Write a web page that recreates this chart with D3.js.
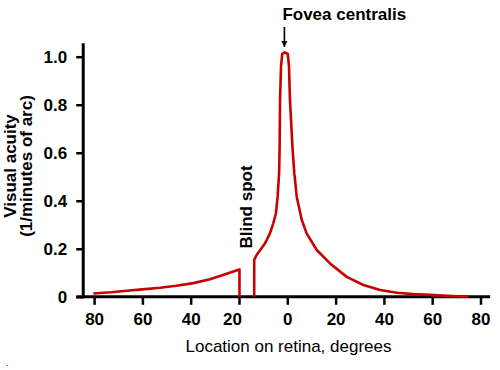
<!DOCTYPE html>
<html>
<head>
<meta charset="utf-8">
<script src="https://cdn.jsdelivr.net/npm/d3@7"></script>
<style>
  html, body { margin: 0; padding: 0; background: #fff; }
  svg { display: block; }
  text { font-family: "Liberation Sans", Arial, Helvetica, sans-serif; fill: #000; }
</style>
</head>
<body>
<svg id="chart" width="500" height="370"></svg>
<script>
// ---- Data (signed retina location in degrees: negative = left / nasal side) ----
const retinaLocation = [
  -80.3, -73, -66.5, -60, -52.7, -46, -38.9, -32, -25.1, -19.8, -19.8,
  null,
  -13.7, -13.7, -12.7, -9.2, -7.2, -5.8, -4.7, -4.0, -3.4, -3.2, -3.0, -2.6, -2.1, -1.0,
  0.2, 0.7, 1.1, 2.2, 2.9, 3.9, 6.0, 8.0, 12.2, 17.7, 24.6, 31.5, 38.4, 45.3, 52.2, 59.1, 66.0, 75.0
];
const acuity = [
  0.014, 0.019, 0.025, 0.031, 0.038, 0.046, 0.057, 0.073, 0.096, 0.114, 0,
  null,
  0, 0.154, 0.174, 0.223, 0.264, 0.306, 0.348, 0.417, 0.515, 0.612, 0.821, 0.96, 1.012, 1.018,
  1.012, 0.96, 0.821, 0.612, 0.515, 0.417, 0.32, 0.264, 0.195, 0.139, 0.083, 0.049, 0.028, 0.017, 0.011, 0.008, 0.004, 0.0
];
const xTickValues = [-80, -60, -40, -20, 0, 20, 40, 60, 80];
const xTickLabels = ["80", "60", "40", "20", "0", "20", "40", "60", "80"];
const yTickValues = [0, 0.2, 0.4, 0.6, 0.8, 1.0];
const yTickLabels = ["0", "0.2", "0.4", "0.6", "0.8", "1.0"];
const foveaLocation = -1.2;
const blindSpotLocation = -14.4;

// ---- Scales ----
const svg = d3.select("#chart");
const x = d3.scaleLinear().domain([-80, 80]).range([94.1, 480.5]);
const y = d3.scaleLinear().domain([0, 1]).range([296.8, 56.7]);
const xAxisStart = -84.5, xAxisEnd = 84;
const yAxisTop = 1.056;

const red = "#c80000";

// ---- Axes ----
const xAxis = d3.axisBottom(x)
  .tickValues(xTickValues)
  .tickFormat((d, i) => xTickLabels[i])
  .tickSizeInner(8).tickSizeOuter(0).tickPadding(8);
const gx = svg.append("g").attr("transform", `translate(0,${y(0)})`).call(xAxis);
gx.select(".domain").remove();
gx.selectAll(".tick line").attr("stroke", "#000").attr("stroke-width", 2.5);
gx.selectAll(".tick text")
  .style("font-size", "17px").style("font-weight", "bold")
  .attr("dx", (d, i) => (d === -20 ? -7 : 0));

const yAxis = d3.axisLeft(y)
  .tickValues(yTickValues)
  .tickFormat((d, i) => yTickLabels[i])
  .tickSizeInner(7).tickSizeOuter(0).tickPadding(9);
const gy = svg.append("g").attr("transform", `translate(${x(xAxisStart)},0)`).call(yAxis);
gy.select(".domain").remove();
gy.selectAll(".tick line").attr("stroke", "#000").attr("stroke-width", 2.5);
gy.selectAll(".tick text").style("font-size", "17px").style("font-weight", "bold");

// axis lines
svg.append("line")
  .attr("x1", x(xAxisStart) - 7).attr("x2", x(xAxisEnd))
  .attr("y1", y(0)).attr("y2", y(0))
  .attr("stroke", "#000").attr("stroke-width", 3);
svg.append("line")
  .attr("x1", x(xAxisStart)).attr("x2", x(xAxisStart))
  .attr("y1", y(0) + 1.5).attr("y2", y(yAxisTop))
  .attr("stroke", "#000").attr("stroke-width", 3);

// ---- Curve ----
const pts = retinaLocation.map((d, i) => ({ loc: d, val: acuity[i] }));
const line = d3.line()
  .defined(d => d.loc !== null && d.val !== null)
  .x(d => x(d.loc))
  .y(d => y(d.val))
  .curve(d3.curveLinear);
svg.append("path")
  .datum(pts)
  .attr("d", line)
  .attr("fill", "none")
  .attr("stroke", red)
  .attr("stroke-width", 2.6)
  .attr("stroke-linejoin", "round")
  .attr("stroke-linecap", "butt");

// ---- Axis titles ----
svg.append("text")
  .attr("x", 288.5).attr("y", 352)
  .attr("text-anchor", "middle")
  .style("font-size", "17px")
  .text("Location on retina, degrees");

const yTitle = svg.append("text")
  .attr("transform", "translate(0,166) rotate(-90)")
  .attr("text-anchor", "middle")
  .style("font-size", "17px").style("font-weight", "bold");
yTitle.append("tspan").attr("x", 0).attr("y", 15.5).text("Visual acuity");
yTitle.append("tspan").attr("x", 0).attr("y", 32).text("(1/minutes of arc)");

// ---- Annotations ----
svg.append("defs").append("marker")
  .attr("id", "arrowhead")
  .attr("viewBox", "0 0 10 10")
  .attr("refX", 10).attr("refY", 5)
  .attr("markerWidth", 4).attr("markerHeight", 4)
  .attr("markerUnits", "strokeWidth")
  .attr("orient", "auto")
  .append("path").attr("d", "M0,0 L10,5 L0,10 z").attr("fill", "#000");

svg.append("line")
  .attr("x1", x(foveaLocation)).attr("x2", x(foveaLocation))
  .attr("y1", 27).attr("y2", 47)
  .attr("stroke", "#000").attr("stroke-width", 1.6)
  .attr("marker-end", "url(#arrowhead)");

svg.append("text")
  .attr("x", x(foveaLocation) - 2).attr("y", 20)
  .style("font-size", "17px").style("font-weight", "bold")
  .text("Fovea centralis");

svg.append("text")
  .attr("transform", `translate(${x(blindSpotLocation) - 0.5},248.5) rotate(-90)`)
  .style("font-size", "17px").style("font-weight", "bold")
  .text("Blind spot");

svg.append("text")
  .attr("x", 6).attr("y", 366)
  .style("font-size", "9px")
  .text(".");
</script>
</body>
</html>
